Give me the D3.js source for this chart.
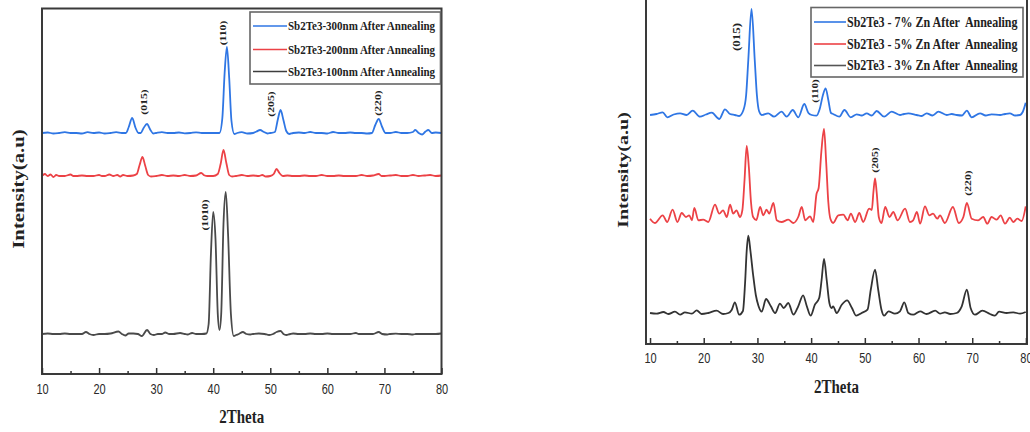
<!DOCTYPE html>
<html>
<head>
<meta charset="utf-8">
<script src="https://cdn.jsdelivr.net/npm/d3@7"></script>
<style>
  body { margin: 0; background: #fff; }
  svg { display: block; }
</style>
</head>
<body>
<svg id="chart" width="1030" height="432"></svg>
<script>
// ---------- XRD patterns, [2theta, counts above baseline] ----------
const sb300 = [[10,0],[11,0.5],[12,-0.5],[13,0],[14,0.8],[15,0],[16,0],[17,-0.5],[18,0.8],[19,0],[20,0.5],[21,-0.5],[22,0],[23,0.8],[24,0],[24.7,0],[25.2,6],[25.8,15],[26.4,5],[26.9,0],[27.3,0],[27.8,5],[28.4,9],[29,3],[29.5,-0.5],[30,0],[31,0.8],[32,0],[33,0],[34,0.5],[35,-0.3],[36,0],[37,0.6],[38,0],[39,0],[40,0],[41.1,0],[41.6,15],[42.0,60],[42.4,86],[42.8,55],[43.2,12],[43.7,-1],[44.2,0],[45,0.8],[46,-0.5],[47,0],[47.6,1.5],[48.2,3],[48.9,1],[49.5,-0.5],[50,0],[50.8,1],[51.3,13],[51.8,23],[52.3,13],[52.8,2],[53.3,-1],[54,0],[55,0.5],[56,0],[57,1],[58,0],[59,0],[60,-0.5],[61,1],[62,0],[63,0],[64,0.5],[65,0],[66,0],[67,-0.5],[67.8,0],[68.4,8],[69,14],[69.6,6],[70.2,0],[71,0],[72,1],[73,0],[74,0],[75,1],[75.4,3],[76,0],[76.6,-1.5],[77.2,1.5],[77.7,3],[78.3,0],[79,0.5],[80,0]];

const sb200 = [[10,0],[10.5,2],[11,0],[11.5,1.5],[12,-1],[12.5,1],[13,0],[14,0],[15,1.5],[15.5,0],[16,0],[17,0.5],[18,0],[19,0],[20,1],[20.5,0],[21,0],[21.8,1.5],[22.5,0],[23.2,1],[23.7,-0.5],[24.2,1],[25,0],[26,0.5],[26.6,2],[27.1,11],[27.6,19],[28.1,10],[28.6,1],[29.1,-0.5],[30,0],[31,1],[32,0],[33,0.5],[34,0],[35,1],[36,0],[37,0.5],[37.9,3],[38.5,0.5],[39,0],[40,0],[40.8,2],[41.3,12],[41.8,26],[42.3,13],[42.8,1],[43.3,-0.5],[44,0],[45,1],[46,0],[47,0.5],[48,0],[48.6,1],[49.2,-0.5],[50,0],[50.6,2],[51.1,7],[51.6,3],[52.2,0],[53,0.5],[54,0],[55,0],[56,0.5],[57,0],[58,0],[59,1],[60,0],[61,0],[62,0.5],[63,0],[64,0],[65,0],[66,1],[67,0],[68,0.5],[69,2],[69.5,0],[70,0],[71,0.5],[72,1],[73,0],[74,0],[75,1],[76,0],[77,0.5],[78,1],[79,0],[80,0.5]];

const sb100 = [[10,0],[11,0.5],[12,0],[13,0],[14,0.5],[15,0],[16,0],[17,0],[17.7,2],[18.3,0],[19,-1],[20,0],[21,0],[22,0.5],[23.4,2.5],[24,0],[24.6,-1.5],[25.2,0.5],[26,0.5],[26.8,0],[27.5,-2],[28.4,4],[29,0],[29.6,-1],[30.3,0],[31,0],[31.6,1.5],[32.3,0],[33,0],[34.2,1],[35,0],[35.5,-0.5],[36.3,1],[37,0],[38,0],[38.8,0.5],[39.2,10],[39.6,80],[40.0,122],[40.4,95],[40.8,20],[41.1,4],[41.4,20],[41.8,110],[42.2,142],[42.6,100],[43.1,20],[43.6,-2],[44,-1],[44.5,0],[45.2,2],[45.8,0],[46.5,-0.5],[47,0],[48,0.5],[49,0],[49.8,-1],[50.5,0],[51.1,2],[51.8,3],[52.3,0],[52.8,-1],[53.5,0],[54,0.5],[55,0],[56,0],[57,0.5],[58,0],[59,0],[60,0.5],[61,0],[62,0],[63,0],[64,0],[65,1],[65.5,0],[66,0],[67,0],[68,0],[69,2],[69.6,0],[70.5,-0.5],[71,0],[72,0.3],[73,0],[74,0],[75,-0.5],[75.5,0],[76,0],[77,0],[78,0],[79,0],[80,0.5]];

const zn7 = [[10,0],[11.2,1],[12.36,2.7],[13.22,-2.3],[14.4,0.5],[15.6,1.7],[16.8,0],[17.95,4.3],[19.3,-1.7],[20.4,0.5],[21.5,2.3],[22.9,-4],[23.96,5.7],[24.9,1],[25.8,0],[26.6,-1],[27.4,5],[27.9,20],[28.3,55],[28.9,106],[29.5,55],[29.9,20],[30.3,4],[30.8,0],[32.0,1.7],[33.1,-1.7],[34.5,3.3],[35.45,-1.7],[36.57,5],[37.6,-2.3],[38.73,11],[39.5,2],[40.1,0],[41.0,-0.7],[41.6,6],[42.2,20],[42.7,26.7],[43.2,15],[43.7,2],[44.1,1],[45.25,-1.7],[46.2,5],[47.37,-2.3],[48.5,0.7],[49.4,-0.5],[50.35,1.7],[51.3,-0.5],[52.2,4],[53.6,-1.7],[55.0,3.3],[56.55,0],[57.3,1],[58.1,1.7],[59.66,0],[60.6,-1],[61.5,1.7],[62.6,-0.5],[63.7,3.3],[65.25,0],[66.2,1],[67.1,0],[68.1,-0.5],[69.0,4.3],[69.9,-2.3],[71.45,1.7],[72.5,-0.5],[73.6,0.7],[75.2,0],[76.1,1],[77.0,1.7],[78.0,-0.5],[78.9,0],[79.4,3],[79.96,12.3]];

const zn5 = [[10,3.3],[10.9,-1],[12.36,6.7],[13.2,0],[14.2,12.3],[15.1,0],[15.9,9],[16.7,5],[17.3,6.7],[17.8,1.7],[18.25,14],[19.0,1.7],[19.9,2.3],[20.85,0],[22.1,17.3],[22.9,8.3],[23.6,11.7],[24.3,5],[24.9,17.3],[25.5,8.3],[26.1,11.7],[26.75,5],[27.2,12],[27.6,42],[28.0,76],[28.4,55],[28.8,20],[29.2,5],[29.8,2],[30.5,15],[31.1,6.7],[31.7,12.3],[32.2,8.3],[32.97,19],[33.6,1.7],[34.5,0],[35.75,2.3],[36.7,-1],[37.6,5],[38.25,15],[38.9,1.7],[39.8,5.7],[40.4,0],[41.0,28],[41.4,34],[41.9,70],[42.4,93],[42.8,60],[43.2,20],[43.6,3],[44.1,-1],[45.05,6.7],[46.0,7.3],[46.8,1.7],[47.4,8.3],[48.2,0],[48.97,9],[49.7,0],[50.8,13.3],[51.3,12],[51.6,30],[51.9,43.7],[52.2,30],[52.6,5],[53.1,-1],[53.8,15],[54.6,5],[55.3,10],[56.1,1.7],[57.5,13.3],[58.4,0],[59.0,1.7],[59.7,10],[60.3,-1.7],[61.2,15.7],[62.0,6.7],[62.7,8.3],[63.5,3.3],[64.0,6.7],[64.9,-1],[66.4,15],[67.5,-1],[68.35,5],[69.0,19],[69.9,3.3],[71.1,1.7],[72.05,5],[72.8,-1.7],[73.6,5],[74.55,2.3],[75.3,6.7],[76.1,-1.7],[77.0,4.3],[77.65,0],[78.4,3.3],[79.2,1],[79.96,15.7]];

const zn3 = [[10,0],[11.2,-0.7],[12.5,1],[13.4,-1],[14.65,1.3],[15.6,-1.7],[16.5,0.7],[17.8,-0.7],[18.7,2.7],[19.6,-1],[20.85,0],[22.4,2.3],[23.6,-1],[24.6,0],[25.2,3],[25.8,10.7],[26.6,-1.7],[27.3,2],[27.7,30],[28.0,62],[28.3,77.3],[28.7,62],[29.2,38],[29.7,18],[30.2,7],[30.8,1.3],[31.6,14],[32.5,6.7],[33.3,0],[34.2,9.3],[34.9,5],[35.75,10],[36.7,-1.7],[37.6,6.7],[38.5,17.7],[39.2,6.7],[39.9,-2.7],[40.7,8.3],[41.5,15],[41.95,33],[42.4,54],[42.9,33],[43.4,10],[43.8,5],[44.1,6.7],[44.75,0],[45.7,8.3],[46.7,12.7],[47.6,5],[48.4,-2.7],[49.4,0],[50.5,3.3],[51.1,23],[51.9,43.3],[52.5,23],[53.1,3.3],[53.6,-2.7],[54.4,1.7],[55.6,-0.7],[56.55,1.7],[57.35,10.7],[58.1,0],[59.0,-1.7],[60.3,1.7],[61.5,-1],[63.1,2.3],[64.0,-0.7],[64.9,0.7],[65.9,-1],[67.1,0],[68.05,6.7],[69.0,23.3],[69.7,5],[70.5,-1.7],[71.9,2.3],[73.3,-1],[74.2,-2.7],[75.0,1.3],[76.4,0],[77.65,0.7],[78.9,-0.7],[79.96,1]];

// vertical stacking offsets of each trace (counts)
const offsetsThickness = [40, 198, 241];   // 100nm, 200nm, 300nm
const offsetsZn = [31, 122, 229];          // 3%, 5%, 7%

// legends (top to bottom)
const legendThickness = ["Sb2Te3-300nm After Annealing", "Sb2Te3-200nm After Annealing", "Sb2Te3-100nm After Annealing"];
const legendZn = ["Sb2Te3 - 7% Zn After  Annealing", "Sb2Te3 - 5% Zn After  Annealing", "Sb2Te3 - 3% Zn After  Annealing"];

// axis ticks
const majorTicks = [10, 20, 30, 40, 50, 60, 70, 80];
const minorTicks = [15, 25, 35, 45, 55, 65, 75];

// reflection labels: [text, 2theta, counts level]
const hklThickness = [["(015)", 27.9, 272], ["(110)", 41.75, 341], ["(205)", 50.2, 270], ["(220)", 68.8, 271], ["(1010)", 38.6, 159]];
const hklZn = [["(015)", 26.2, 307], ["(110)", 40.7, 253], ["(205)", 51.9, 184], ["(220)", 69.2, 161]];

// ---------- drawing ----------
const svg = d3.select("#chart");
const SERIF = "'Liberation Serif','Times New Roman',serif";
const SANS = "'Liberation Sans',Arial,sans-serif";
const STRETCH = 1.3;
const BLUE = "#2f76e4", RED = "#ec4246", DARK = "#3d3d3d";

function drawPanel(p) {
  const x = d3.scaleLinear().domain(p.xDomain).range([p.left, p.right]);
  const y = d3.scaleLinear().domain(p.yDomain).range([p.bottom, p.top]);
  const g = svg.append("g");

  const line = d3.line().x(d => x(d[0])).y(d => y(d[1])).curve(d3.curveMonotoneX);
  p.series.forEach((s, i) => {
    g.append("path")
      .datum(s.map(d => [d[0], d[1] + p.offsets[i]]))
      .attr("d", line)
      .attr("fill", "none")
      .attr("stroke", p.colors[i])
      .attr("stroke-width", 1.8)
      .attr("stroke-linejoin", "round");
  });

  // frame
  g.append("rect")
    .attr("x", p.left).attr("y", p.frameTop)
    .attr("width", p.right - p.left).attr("height", p.bottom - p.frameTop)
    .attr("fill", "none").attr("stroke", "#3a3a3a").attr("stroke-width", 2);

  // bottom axis, ticks pointing inward
  const axMajor = g.append("g").attr("transform", `translate(0,${p.bottom})`)
    .call(d3.axisBottom(x).tickValues(majorTicks).tickSizeInner(-6).tickSizeOuter(0)
      .tickPadding(p.labelPad).tickFormat(d3.format("d")));
  const axMinor = g.append("g").attr("transform", `translate(0,${p.bottom})`)
    .call(d3.axisBottom(x).tickValues(minorTicks).tickSizeInner(-3).tickSizeOuter(0).tickFormat(""));
  [axMajor, axMinor].forEach(a => {
    a.select(".domain").remove();
    a.selectAll(".tick line").attr("stroke", "#333").attr("stroke-width", 1.5);
  });
  axMajor.selectAll(".tick text")
    .attr("font-family", SANS).attr("font-size", 11).attr("fill", "#2a2a2a")
    .attr("transform", `scale(1,${STRETCH})`);

  // axis titles
  g.append("text")
    .attr("transform", `translate(${(p.left + p.right) / 2},${p.xTitleY}) scale(1,${STRETCH})`)
    .attr("text-anchor", "middle").attr("dominant-baseline", "central")
    .attr("font-family", SERIF).attr("font-weight", "bold").attr("font-size", 15)
    .attr("fill", "#222").text("2Theta");
  g.append("text")
    .attr("transform", `translate(${p.yTitleX},${p.yTitleY}) rotate(-90) scale(${STRETCH},1)`)
    .attr("text-anchor", "middle").attr("dominant-baseline", "central")
    .attr("font-family", SERIF).attr("font-weight", "bold").attr("font-size", p.yTitleSize)
    .attr("fill", "#222").text("Intensity(a.u)");

  // reflection labels
  p.hkl.forEach(([t, th, lv], i) => {
    g.append("text")
      .attr("transform", `translate(${x(th)},${y(lv)}) rotate(-90) scale(${STRETCH},1)`)
      .attr("text-anchor", "middle").attr("dominant-baseline", "central")
      .attr("font-family", SERIF).attr("font-weight", "bold")
      .attr("font-size", p.hklSizes[i]).attr("fill", "#222").text(t);
  });

  // legend
  const L = p.legend;
  g.append("rect")
    .attr("x", L.x).attr("y", L.y).attr("width", L.w).attr("height", L.h)
    .attr("fill", "#fff").attr("stroke", "#666").attr("stroke-width", 1.6);
  p.legendLabels.forEach((lab, i) => {
    const ry = L.rows[i];
    g.append("line")
      .attr("x1", L.x + 3).attr("x2", L.textX - 1).attr("y1", ry).attr("y2", ry)
      .attr("stroke", p.legendColors[i]).attr("stroke-width", 1.6);
    g.append("text")
      .attr("transform", `translate(${L.textX},${ry}) scale(1,${L.stretch})`)
      .attr("dominant-baseline", "central")
      .attr("font-family", SERIF).attr("font-weight", "bold").attr("font-size", L.size)
      .attr("fill", "#222").attr("xml:space", "preserve").style("white-space", "pre")
      .text(lab);
  });
}

drawPanel({
  series: [sb100, sb200, sb300],
  offsets: offsetsThickness,
  colors: ["#4a4a4a", RED, BLUE],
  xDomain: [10, 80], yDomain: [0, 366],
  left: 42, right: 441.5, top: 8, bottom: 374, frameTop: 8.5,
  labelPad: 7.6, xTitleY: 417, yTitleX: 18, yTitleY: 189, yTitleSize: 16,
  hkl: hklThickness, hklSizes: [9, 9, 9, 9, 9],
  legendLabels: legendThickness, legendColors: [BLUE, RED, DARK],
  legend: { x: 250, y: 12, w: 190.5, h: 72, rows: [26, 49.5, 71.5], textX: 288, size: 11, stretch: 1.22 }
});

drawPanel({
  series: [zn3, zn5, zn7],
  offsets: offsetsZn,
  colors: ["#333", RED, BLUE],
  xDomain: [9.25, 80.2], yDomain: [0, 345],
  left: 646, right: 1027, top: -1, bottom: 344, frameTop: -3,
  labelPad: 6.8, xTitleY: 387, yTitleX: 623, yTitleY: 170, yTitleSize: 15.5,
  hkl: hklZn, hklSizes: [10, 8.5, 9, 9],
  legendLabels: legendZn, legendColors: [BLUE, RED, "#555"],
  legend: { x: 811, y: 7.5, w: 212, h: 69.5, rows: [22, 44, 65.5], textX: 847, size: 12, stretch: 1.18 }
});
</script>
</body>
</html>
